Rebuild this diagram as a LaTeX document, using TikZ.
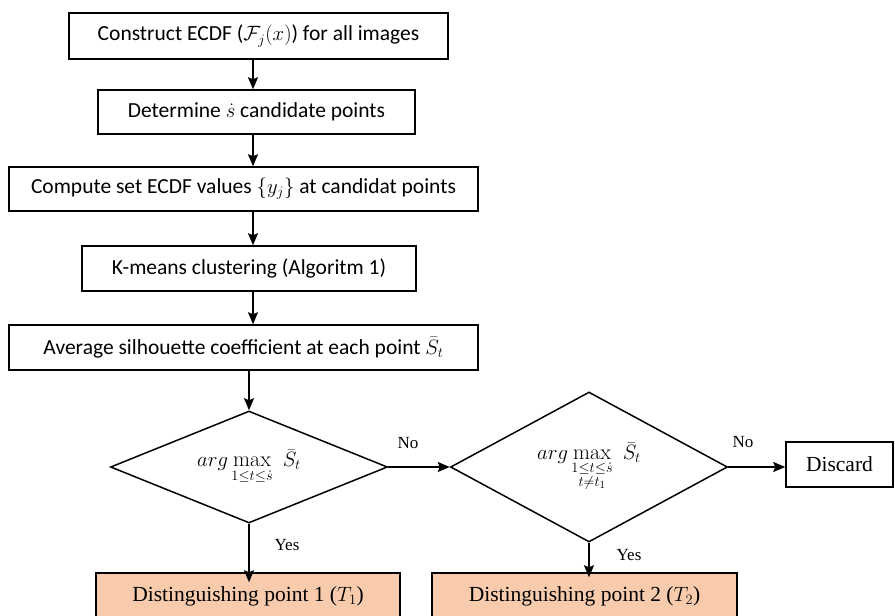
\documentclass[tikz,border=0pt]{standalone}
\usepackage{amsmath}
\usepackage{fontspec}
\newfontfamily\calib{Carlito}
\newfontfamily\tms{Liberation Serif}
\usetikzlibrary{shapes.geometric,arrows.meta}
\definecolor{peach}{HTML}{F8CBAD}
\tikzset{
  every picture/.style={x=1pt,y=-1pt},
  arr/.style={line width=1.6pt,-{Stealth[length=12pt,width=10pt,inset=2pt]}},
  cbox/.style={draw,line width=1.5pt,inner sep=0pt,font=\calib\fontsize{21.5}{25}\selectfont},
  tbox/.style={draw,line width=1.5pt,inner sep=0pt,font=\tms\fontsize{21.5}{25}\selectfont},
  obox/.style={tbox,fill=peach},
  dec/.style={draw,diamond,line width=1.5pt,inner sep=0pt,aspect=2.5,font=\fontsize{22}{26}\selectfont},
  lab/.style={font=\tms\fontsize{17}{20}\selectfont,inner sep=0pt},
}
\begin{document}
\begin{tikzpicture}
\path[use as bounding box,clip] (0,0) rectangle (895,616);
\fill[white] (0,0) rectangle (895,616);
\coordinate (ax) at (253,0);
\node[cbox,minimum width=379pt,minimum height=46pt] (b1) at (258.5,36) {Construct ECDF ($\mathcal{F}_j(x)$) for all images};
\node[cbox,minimum width=317pt,minimum height=44pt] (b2) at (256.5,112) {Determine $\dot{s}$ candidate points};
\node[cbox,minimum width=469pt,minimum height=44pt] (b3) at (243.5,189) {Compute set ECDF values $\{y_j\}$ at candidat points};
\node[cbox,minimum width=334pt,minimum height=45pt] (b4) at (249,268.5) {K-means clustering (Algoritm 1)};
\node[cbox,minimum width=469pt,minimum height=45pt] (b5) at (243.5,347.5) {Average silhouette coefficient at each point $\bar{S}_t$};
\node[dec,minimum width=277pt,minimum height=112pt] (d1) at (249,467) {$\displaystyle arg\max_{1\le t\le \dot{s}}\ \bar{S}_t$};
\node[dec,minimum width=277pt,minimum height=150pt] (d2) at (589,467) {$\displaystyle arg\max_{\substack{1\le t\le \dot{s}\\ t\ne t_1}}\ \bar{S}_t$};
\node[tbox,minimum width=107pt,minimum height=45pt] (dis) at (839.5,464.5) {Discard};
\node[obox,minimum width=304pt,minimum height=46pt] (t1) at (248,596) {Distinguishing point 1 ($T_1$)};
\node[obox,minimum width=305pt,minimum height=46pt] (t2) at (584.5,596) {Distinguishing point 2 ($T_2$)};
\draw[arr] (b1.south -| ax) -- (b2.north -| ax);
\draw[arr] (b2.south -| ax) -- (b3.north -| ax);
\draw[arr] (b3.south -| ax) -- (b4.north -| ax);
\draw[arr] (b4.south -| ax) -- (b5.north -| ax);
\draw[arr] (b5.south -| d1.north) -- (d1.north);
\draw[arr] (d1.east) -- (d2.west);
\draw[arr] (d2.east) -- (d2.east -| dis.west);
\draw[arr] (d1.south) -- ([yshift=-10pt]d1.south |- t1.north);
\draw[arr] (d2.south) -- ([yshift=-5pt]d2.south |- t2.north);
\node[lab] (no1) at (408,443) {No};
\node[lab] (no2) at (743,442) {No};
\node[lab] (yes1) at (287,545) {Yes};
\node[lab] (yes2) at (629,555) {Yes};
\end{tikzpicture}
\end{document}
